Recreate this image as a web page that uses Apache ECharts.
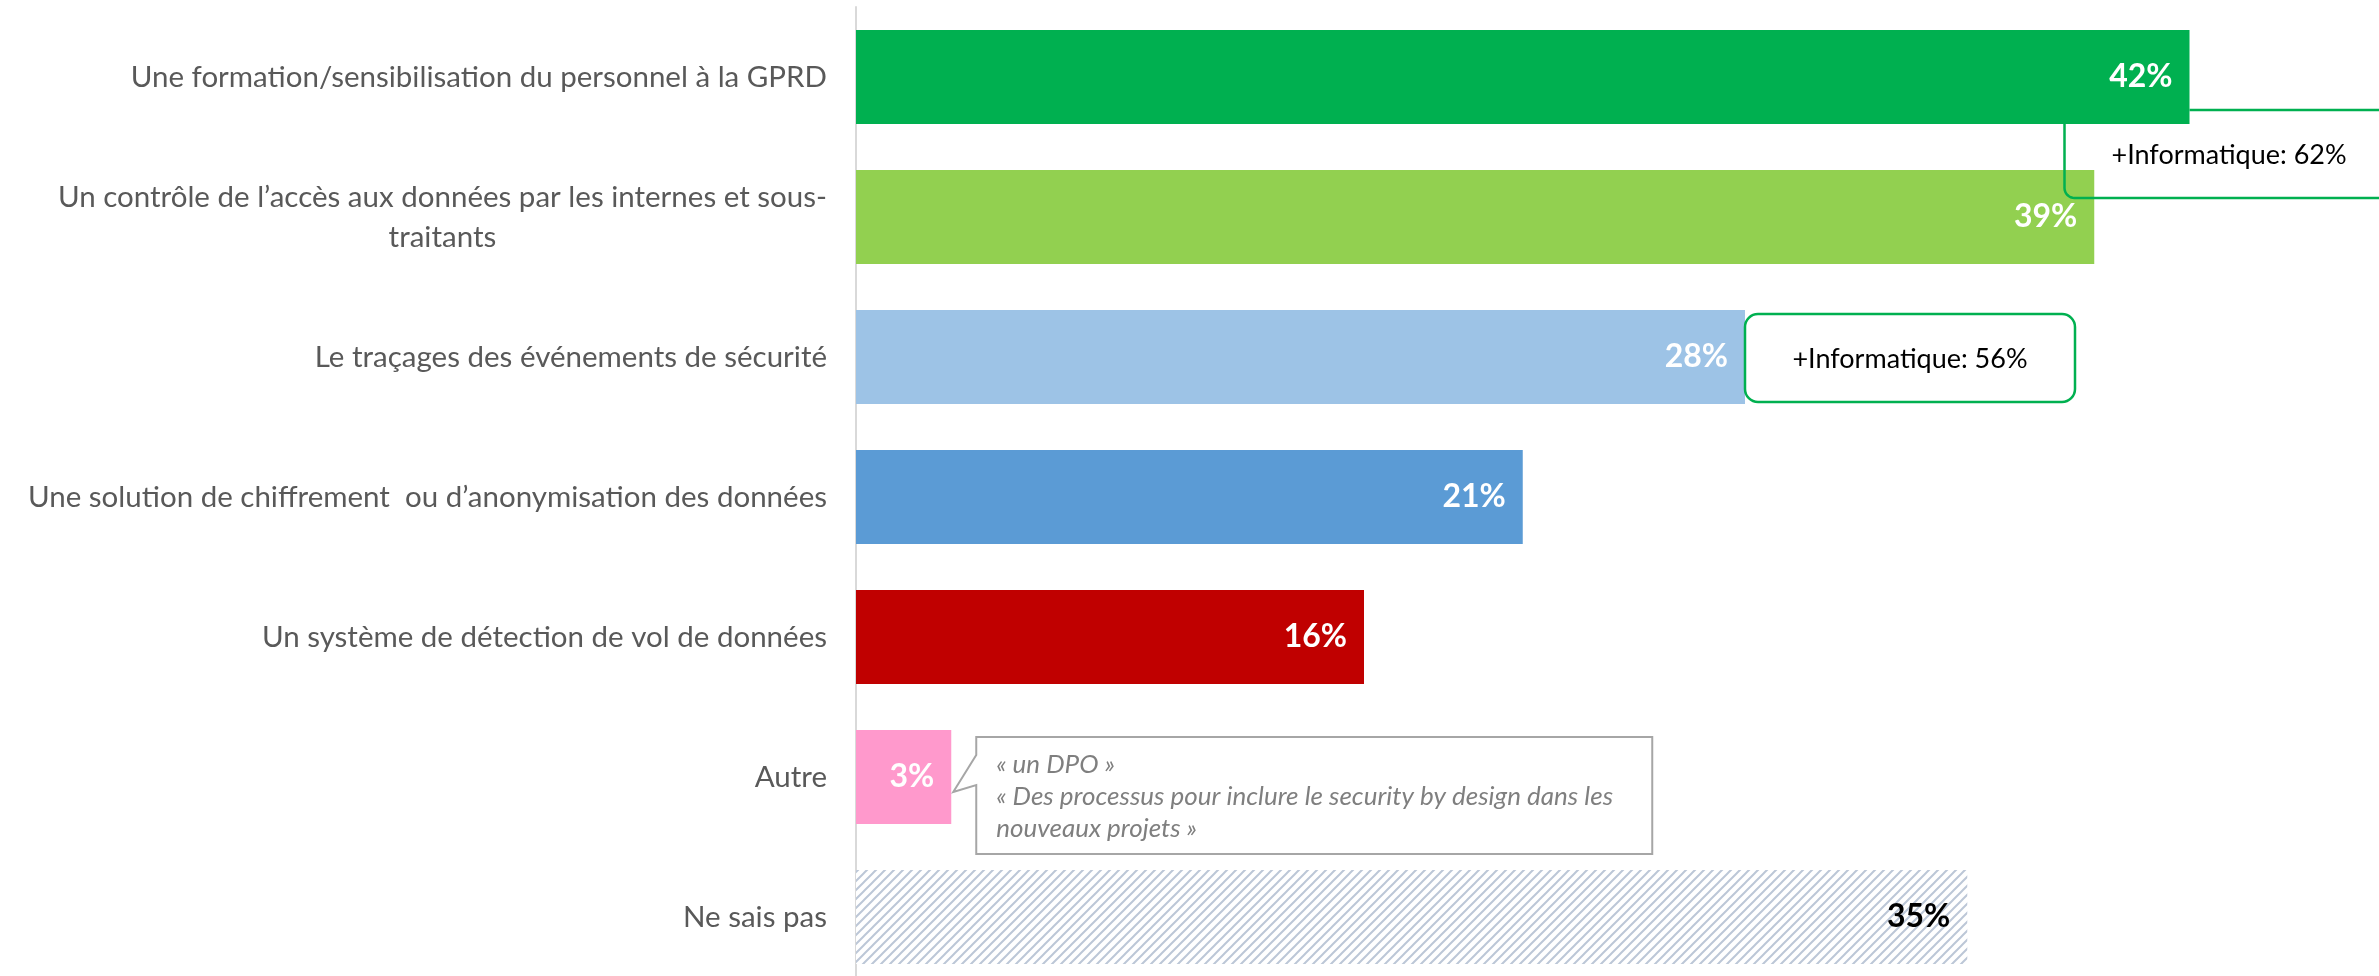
<!DOCTYPE html>
<html>
<head>
<meta charset="utf-8">
<script src="https://cdn.jsdelivr.net/npm/echarts@6/dist/echarts.min.js"></script>
<style>
  html, body { margin: 0; padding: 0; background: #ffffff; }
  #chart { width: 2379px; height: 976px; }
</style>
</head>
<body>
<div id="chart"></div>
<script>
// Survey answers (share of respondents, %)
const categories = [
  'Une formation/sensibilisation du personnel à la GPRD',
  'Un contrôle de l’accès aux données par les internes et sous-\ntraitants',
  'Le traçages des événements de sécurité',
  'Une solution de chiffrement  ou d’anonymisation des données',
  'Un système de détection de vol de données',
  'Autre',
  'Ne sais pas'
];
const values = [42, 39, 28, 21, 16, 3, 35];
const barColors = ['#00b050', '#92d050', '#9dc3e6', '#5b9bd5', '#c00000', '#ff99cc', 'hatch'];
const valueLabelColors = ['#ffffff', '#ffffff', '#ffffff', '#ffffff', '#ffffff', '#ffffff', '#000000'];

// Sub-group notes attached to bars
const subgroupNotes = [
  { index: 0, text: '+Informatique: 62%' },
  { index: 2, text: '+Informatique: 56%' }
];
// Verbatim answers for "Autre"
const otherIndex = 5;
const otherQuotes = [
  '« un DPO »',
  '« Des processus pour inclure le security by design dans les',
  'nouveaux projets »'
];

const FONT = 'Lato, "Open Sans", sans-serif';

// Diagonal hatch tile for the "Ne sais pas" bar
function makeHatch() {
  const s = 9;
  const c = document.createElement('canvas');
  c.width = s; c.height = s;
  const g = c.getContext('2d');
  g.fillStyle = '#ffffff';
  g.fillRect(0, 0, s, s);
  g.strokeStyle = '#bcc7d7';
  g.lineWidth = 2;
  g.beginPath();
  for (let k = -1; k <= 1; k++) {
    g.moveTo(k * s - 1, s + 1);
    g.lineTo(k * s + s + 1, -1);
  }
  g.stroke();
  return c;
}
const hatchFill = { image: makeHatch(), repeat: 'repeat' };

const chart = echarts.init(document.getElementById('chart'), null, { renderer: 'canvas' });

const seriesData = values.map((v, i) => ({
  value: v,
  itemStyle: { color: barColors[i] === 'hatch' ? hatchFill : barColors[i] },
  label: { color: valueLabelColors[i] }
}));

chart.setOption({
  animation: false,
  backgroundColor: '#ffffff',
  grid: { left: 856, top: 7, width: 1524, height: 980, containLabel: false, outerBoundsMode: 'none' },
  xAxis: {
    type: 'value', min: 0, max: 48, show: false
  },
  yAxis: {
    type: 'category',
    inverse: true,
    data: categories,
    axisLine: { show: true, lineStyle: { color: '#d9d9d9', width: 2 } },
    axisTick: { show: false },
    splitLine: { show: false },
    axisLabel: {
      margin: 29,
      color: '#595959',
      fontFamily: FONT,
      fontSize: 29.5,
      lineHeight: 40,
      formatter: v => v.split('\n').map(s => '{c|' + s + '}').join('\n'),
      rich: {
        c: { align: 'center', color: '#595959', fontFamily: FONT, fontSize: 29.5, lineHeight: 40 }
      }
    }
  },
  series: [{
    type: 'bar',
    barWidth: 94,
    data: seriesData,
    label: {
      show: true,
      position: 'insideRight',
      distance: 17,
      formatter: p => p.value + '%',
      fontFamily: FONT,
      fontWeight: 'bold',
      fontSize: 32
    }
  }]
});

// Annotations anchored to the bars through the chart's own scales
function px(value, idx) {
  return chart.convertToPixel({ gridIndex: 0 }, [value, idx]);
}
const W = 2379;
const graphics = [];
const GREEN = '#00b050';

// Note on bar 0: open-ended rounded bracket running off the right edge
{
  const n = subgroupNotes[0];
  const [xe, cy] = px(values[n.index], n.index);
  const left = xe - 125, top = cy + 33, bottom = cy + 121, r = 10;
  const barBottom = cy + 47;
  const lineStyle = { fill: 'none', stroke: GREEN, lineWidth: 2.5 };
  graphics.push({
    type: 'line', z: 20,
    shape: { x1: xe, y1: top, x2: W + 10, y2: top },
    style: lineStyle
  });
  // vertical stroke, rounded corner, then out to the right edge
  const pts = [[left, barBottom], [left, bottom - r]];
  for (let a = 1; a < 8; a++) {
    const t = (Math.PI / 2) * (a / 8);
    pts.push([left + r - r * Math.cos(t), bottom - r + r * Math.sin(t)]);
  }
  pts.push([left + r, bottom], [W + 10, bottom]);
  graphics.push({
    type: 'polyline', z: 20,
    shape: { points: pts },
    style: lineStyle
  });
  graphics.push({
    type: 'text', z: 21,
    x: xe - 78, y: cy + 78,
    style: { text: n.text, fill: '#000000', font: '27px ' + FONT, textVerticalAlign: 'middle', textAlign: 'left' }
  });
}
// Note on bar 2: rounded box next to the bar end
{
  const n = subgroupNotes[1];
  const [xe, cy] = px(values[n.index], n.index);
  graphics.push({
    type: 'rect', z: 5,
    shape: { x: xe, y: cy - 43, width: 330, height: 88, r: 13 },
    style: { fill: '#ffffff', stroke: GREEN, lineWidth: 2.5 }
  });
  graphics.push({
    type: 'text', z: 10,
    x: xe + 165, y: cy + 2,
    style: { text: n.text, fill: '#000000', font: '27px ' + FONT, textVerticalAlign: 'middle', textAlign: 'center' }
  });
}
// Speech bubble with verbatim "Autre" answers
{
  const [xe, cy] = px(values[otherIndex], otherIndex);
  const L = xe + 25, R = L + 676, T = cy - 40, B = cy + 77;
  graphics.push({
    type: 'polygon', z: 5,
    shape: { points: [[L, T], [R, T], [R, B], [L, B], [L, cy + 8], [xe + 2, cy + 15], [L, cy - 22]] },
    style: { fill: '#ffffff', stroke: '#a6a6a6', lineWidth: 2 }
  });
  otherQuotes.forEach((line, i) => {
    graphics.push({
      type: 'text', z: 10,
      x: L + 20, y: cy - 12 + i * 32,
      style: { text: line, fill: '#7f7f7f', font: 'italic 26px ' + FONT, textVerticalAlign: 'middle', textAlign: 'left' }
    });
  });
}

chart.setOption({ graphic: graphics });
</script>
</body>
</html>
